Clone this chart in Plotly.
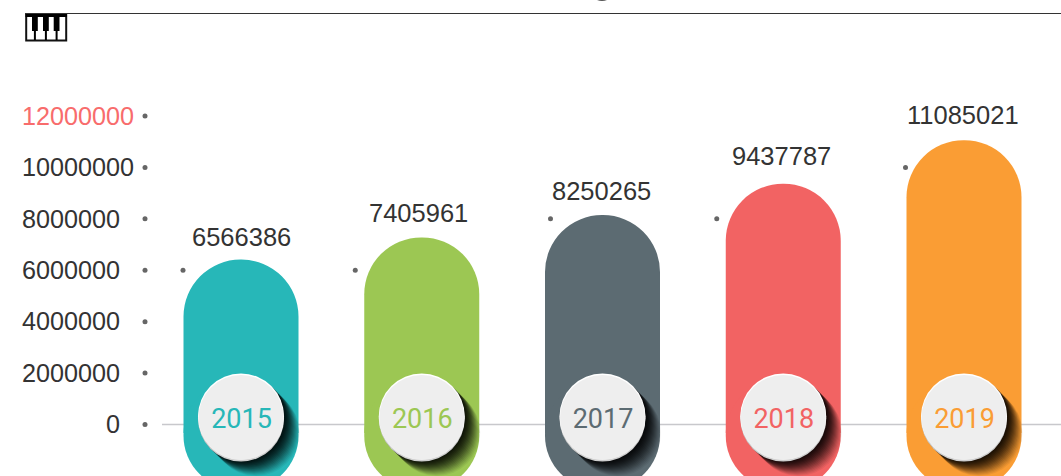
import plotly.graph_objects as go

years = ["2015", "2016", "2017", "2018", "2019"]
values = [6566386, 7405961, 8250265, 9437787, 11085021]
colors = ["#27B7B8", "#9CC753", "#5C6B72", "#F26363", "#FA9D34"]
tick_values = [0, 2000000, 4000000, 6000000, 8000000, 10000000, 12000000]
dot_values = [6000000, 6000000, 8000000, 8000000, 10000000]
bar_floor = -2150000

W, H = 1061, 476
PLOT_LEFT = 140
BASELINE_LEFT = 162
STEP = 180.75
X0_PX = 241.0
Y0_PX, PX_PER_UNIT = 424.5, 308.5 / 12e6       # axis with the tick labels
BAR0_PX, BAR_PX_PER_UNIT = 432.9, 26.4 / 1e6   # scale of the bars
BAR_W = 115.0
CIRCLE_D = 87
CIRCLE_DY = 7.0
TEXT = "#333333"

dot_shift = [-58, -66.5, -52, -66.5, -58.5]
label_dx = [0, -3, -1, -2, -1.5]
label_dy = [-18.7, -21, -21.5, -26, -24.5]


def xd(dpx):
    return dpx / STEP


def yd(dpx):
    return dpx / PX_PER_UNIT


xs = list(range(len(years)))
x_range = [(PLOT_LEFT - X0_PX) / STEP, (W - X0_PX) / STEP]
y_range = [-(H - Y0_PX) / (PX_PER_UNIT), Y0_PX / PX_PER_UNIT]
y2_range = [-(H - BAR0_PX) / BAR_PX_PER_UNIT, BAR0_PX / BAR_PX_PER_UNIT]

fig = go.Figure()

# invisible trace that keeps the base axis (ticks) alive
fig.add_trace(go.Scatter(x=xs, y=values, mode="markers", marker=dict(size=1, opacity=0), yaxis="y", hoverinfo="skip"))

# bar body (rounded top) and rounded lower end
fig.add_trace(go.Bar(x=xs, y=values, width=BAR_W / STEP, marker=dict(color=colors, cornerradius=57, line_width=0),
                     yaxis="y2", opacity=1, hoverinfo="skip"))
fig.add_trace(go.Bar(x=xs, y=[bar_floor - 2000000] * 5, base=[2000000] * 5, width=BAR_W / STEP,
                     marker=dict(color=colors, cornerradius=57, line_width=0), yaxis="y2", opacity=1, hoverinfo="skip"))

center_y = yd(CIRCLE_DY)

# long shadow: dark next to the disc, fading outwards
for t in range(15, 0, -1):
    alpha = 0.06 + 0.01 * (15 - t)
    fig.add_trace(go.Scatter(x=[x + xd(t) for x in xs], y=[center_y - yd(t)] * 5, mode="markers",
                             marker=dict(size=CIRCLE_D, color=f"rgba(0,0,0,{alpha:.3f})", line_width=0),
                             yaxis="y3", hoverinfo="skip"))

# rim
fig.add_trace(go.Scatter(x=xs, y=[center_y - yd(1)] * 5, mode="markers",
                         marker=dict(size=CIRCLE_D - 1, color="#CFCFCF", line_width=0), yaxis="y3", hoverinfo="skip"))
fig.add_trace(go.Scatter(x=xs, y=[center_y + yd(1)] * 5, mode="markers",
                         marker=dict(size=CIRCLE_D - 1, color="#FFFFFF", line_width=0), yaxis="y3", hoverinfo="skip"))
# disc with year
fig.add_trace(go.Scatter(x=xs, y=[center_y] * 5, mode="markers", marker=dict(size=CIRCLE_D - 2, color="#EEEEEE", line_width=0),
                         yaxis="y3", hoverinfo="skip"))
fig.add_trace(go.Scatter(x=[x + xd(0.5) for x in xs], y=[center_y - yd(4)] * 5, mode="text", text=years,
                         textposition="middle center",
                         textfont=dict(family="Roboto", size=27, weight=400, color=colors), yaxis="y3", hoverinfo="skip"))

# dots beside the tick labels and beside the bars
fig.add_trace(go.Scatter(x=[(145 - X0_PX) / STEP] * len(tick_values), y=tick_values, mode="markers",
                         marker=dict(size=5, color="#666666", line_width=0), yaxis="y3", cliponaxis=False, hoverinfo="skip"))
fig.add_trace(go.Scatter(x=[x + xd(s) for x, s in zip(xs, dot_shift)], y=dot_values, mode="markers",
                         marker=dict(size=5, color="#666666", line_width=0), yaxis="y3", cliponaxis=False, hoverinfo="skip"))

annotations = [
    dict(x=x, y=v, xref="x", yref="y3", text=str(v), showarrow=False, xanchor="center", yanchor="middle",
         xshift=dx, yshift=-dy, font=dict(family="Liberation Sans", size=25.5, color=TEXT))
    for x, v, dx, dy in zip(xs, values, label_dx, label_dy)
]


def px_x(p):
    return (p - PLOT_LEFT) / (W - PLOT_LEFT)


def px_y(p):
    return 1 - p / H


def rect(x0, y0, x1, y1, fill="#000000", line=None, lw=1):
    return dict(type="rect", xref="paper", yref="paper", x0=px_x(x0), x1=px_x(x1), y0=px_y(y1), y1=px_y(y0),
                fillcolor=fill, line=dict(width=0 if line is None else lw, color=line or fill), layer="above")


shapes = [dict(type="line", xref="paper", yref="paper", x0=px_x(25), x1=px_x(W), y0=px_y(13.5), y1=px_y(13.5),
               line=dict(color="#333333", width=1), layer="above")]
# baseline under the bars
shapes.append(dict(type="line", xref="paper", yref="y", x0=px_x(BASELINE_LEFT), x1=1, y0=0, y1=0,
                   line=dict(color="#C8C8CC", width=1.5), layer="below"))
# piano icon
shapes.append(rect(26.2, 15, 66.2, 40.5, fill="#FFFFFF", line="#111111", lw=2))
shapes.append(rect(25.5, 14, 67, 17))
for kx in (32, 43, 53.7):
    shapes.append(rect(kx, 14, kx + 5.8, 31))
    shapes.append(rect(kx + 1.9, 31, kx + 3.9, 40))
# descender of the title that the crop cuts off
shapes.append(dict(type="path", xref="paper", yref="paper",
                   path=f"M {px_x(597)} {px_y(0)} Q {px_x(602)} {px_y(2.2)} {px_x(607)} {px_y(0)} Z",
                   fillcolor="#555555", line=dict(width=0), layer="above"))

ticktext = [f"{v}\u00a0\u00a0" for v in tick_values]
ticktext[-1] = f'<span style="color:#F86C6C">{tick_values[-1]}</span>'
ticktext[-2] = str(tick_values[-2])

fig.update_layout(
    width=W, height=H, autosize=False,
    margin=dict(l=PLOT_LEFT, r=0, t=0, b=0, pad=0),
    paper_bgcolor="#FFFFFF", plot_bgcolor="#FFFFFF",
    showlegend=False, barmode="overlay",
    xaxis=dict(range=x_range, visible=False, fixedrange=True),
    yaxis=dict(range=y_range, showgrid=False, zeroline=False,
               tickmode="array", tickvals=tick_values, ticktext=ticktext, ticks="outside", ticklen=0,
               ticklabelstandoff=0,
               tickcolor="rgba(0,0,0,0)", showline=False, automargin=False,
               tickfont=dict(family="Liberation Sans", size=25.2, color=TEXT)),
    yaxis2=dict(range=y2_range, overlaying="y", visible=False),
    yaxis3=dict(range=y_range, overlaying="y", visible=False),
    annotations=annotations, shapes=shapes,
)

fig.write_html("out.html", config={"displayModeBar": False},
               post_script="document.body.style.margin='0';document.body.style.overflow='hidden';")
